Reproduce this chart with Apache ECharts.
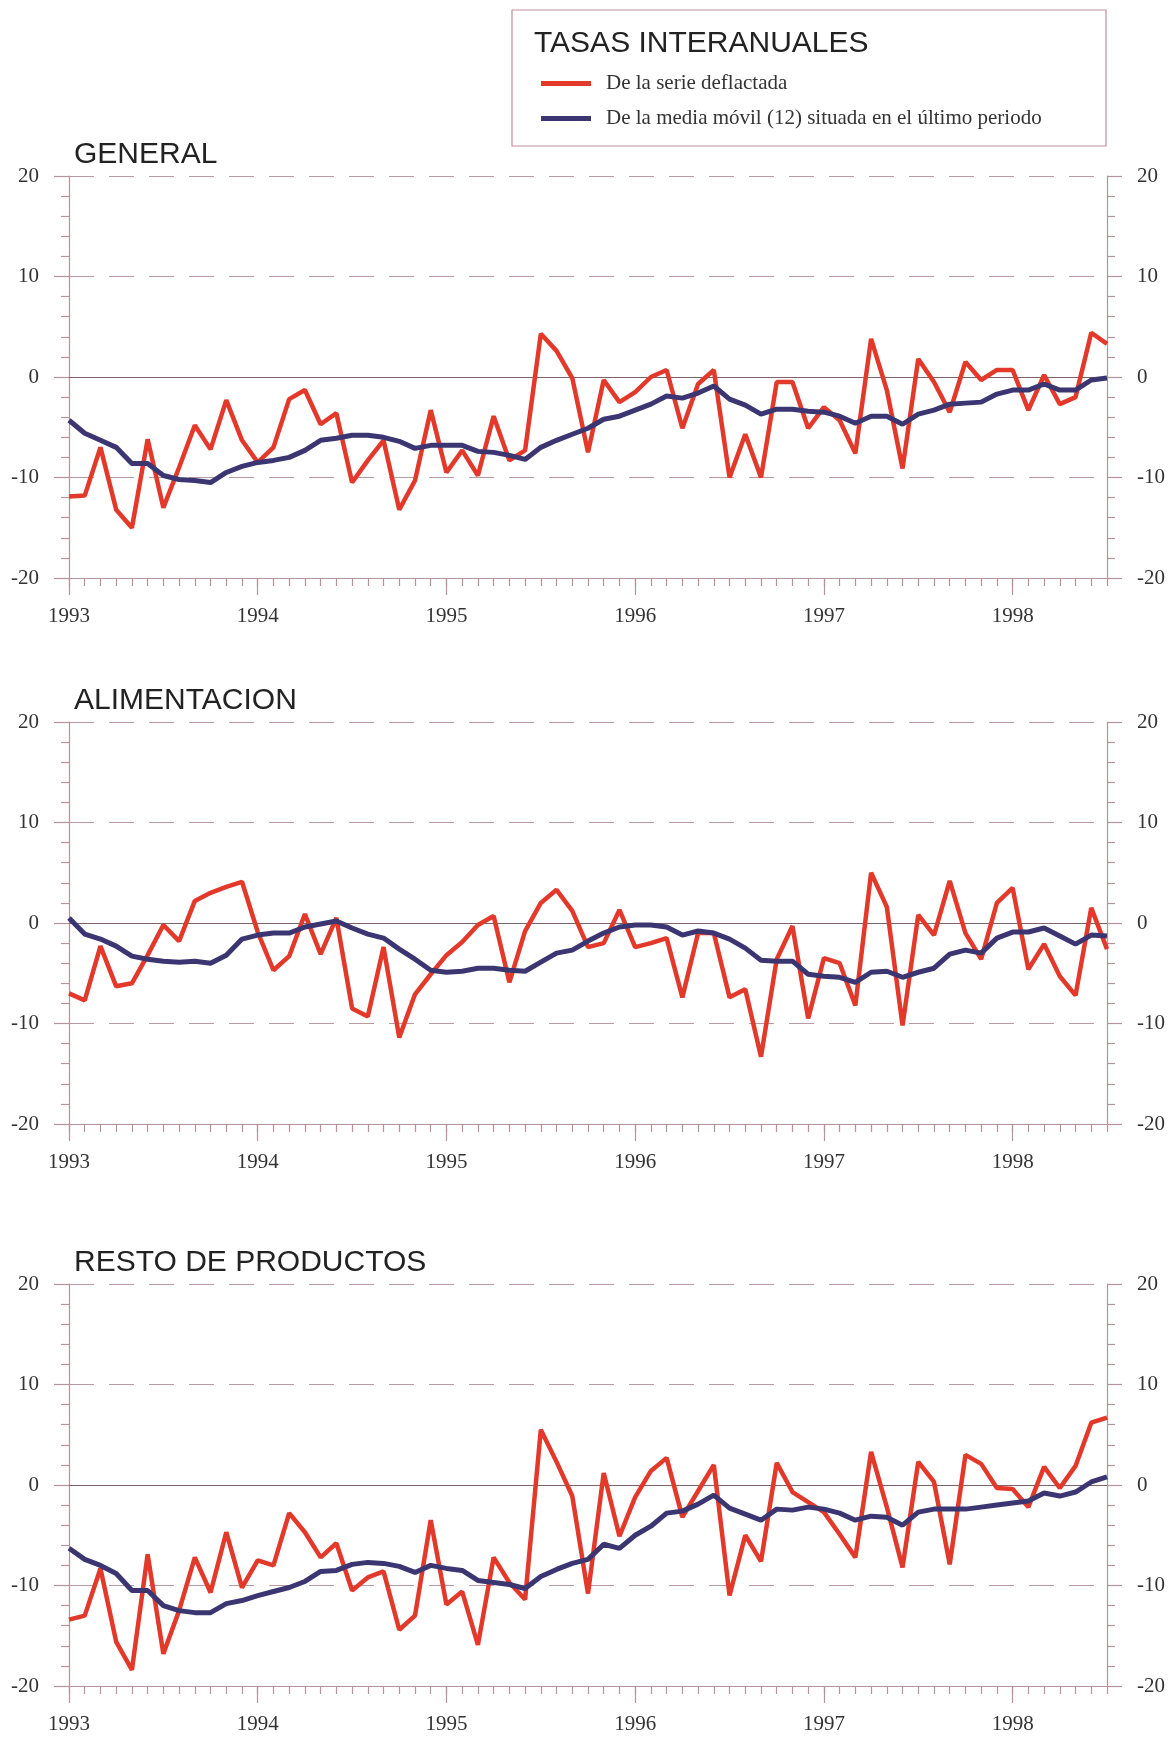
<!DOCTYPE html>
<html>
<head>
<meta charset="utf-8">
<title>Tasas interanuales</title>
<script src="https://cdn.jsdelivr.net/npm/echarts@6/dist/echarts.min.js"></script>
<style>
    html, body { margin: 0; padding: 0; background: #fff; }
    #chart { width: 1174px; height: 1740px; }
</style>
</head>
<body>
<div id="chart"></div>
<script>
// years on the x axis, one point per month from Jan 1993 to Jul 1998
var years = ['1993', '1994', '1995', '1996', '1997', '1998'];
var lastMonths = 7; // months shown of the last year

var yTicks = [-20, -10, 0, 10, 20];

var legendNames = ['De la serie deflactada', 'De la media móvil (12) situada en el último periodo'];

// GENERAL
var genRed = [
    -11.9, -11.8, -7.0, -13.2, -15.0, -6.2, -13.0, -9.0, -4.8, -7.2, -2.3, -6.3,
    -8.5, -7.0, -2.2, -1.3, -4.7, -3.6, -10.5, -8.3, -6.3, -13.2, -10.3, -3.3,
    -9.5, -7.3, -9.8, -3.9, -8.3, -7.3, 4.3, 2.6, -0.1, -7.5, -0.3, -2.5,
    -1.5, 0.0, 0.7, -5.1, -0.7, 0.7, -10.0, -5.7, -10.0, -0.5, -0.5, -5.1,
    -3.0, -4.3, -7.6, 3.8, -1.3, -9.1, 1.8, -0.5, -3.5, 1.5, -0.3, 0.7,
    0.7, -3.3, 0.2, -2.7, -2.0, 4.4, 3.3
];
var genAvg = [
    -4.3, -5.6, -6.3, -7.0, -8.6, -8.6, -9.8, -10.2, -10.3, -10.5, -9.5, -8.9,
    -8.5, -8.3, -8.0, -7.3, -6.3, -6.1, -5.8, -5.8, -6.0, -6.4, -7.1, -6.8,
    -6.8, -6.8, -7.4, -7.5, -7.8, -8.2, -7.0, -6.3, -5.7, -5.1, -4.2, -3.9,
    -3.3, -2.7, -1.9, -2.1, -1.6, -0.9, -2.2, -2.8, -3.7, -3.2, -3.2, -3.4,
    -3.5, -3.9, -4.6, -3.9, -3.9, -4.7, -3.7, -3.3, -2.7, -2.6, -2.5, -1.7,
    -1.3, -1.3, -0.7, -1.3, -1.3, -0.3, -0.1
];

// ALIMENTACION
var aliRed = [
    -7.0, -7.7, -2.3, -6.3, -6.0, -3.2, -0.2, -1.8, 2.2, 3.0, 3.6, 4.1,
    -0.9, -4.7, -3.3, 0.9, -3.1, 0.5, -8.5, -9.3, -2.4, -11.4, -7.1, -5.1,
    -3.2, -1.9, -0.2, 0.7, -5.9, -0.8, 2.0, 3.3, 1.2, -2.4, -2.0, 1.3,
    -2.4, -2.0, -1.5, -7.4, -1.0, -1.0, -7.4, -6.6, -13.3, -3.6, -0.3, -9.5,
    -3.5, -4.0, -8.2, 5.0, 1.6, -10.2, 0.8, -1.2, 4.2, -1.0, -3.6, 2.0,
    3.5, -4.6, -2.1, -5.3, -7.2, 1.5, -2.6
];
var aliAvg = [
    0.5, -1.1, -1.6, -2.3, -3.3, -3.6, -3.8, -3.9, -3.8, -4.0, -3.2, -1.6,
    -1.2, -1.0, -1.0, -0.4, -0.1, 0.2, -0.5, -1.1, -1.5, -2.6, -3.6, -4.7,
    -4.9, -4.8, -4.5, -4.5, -4.7, -4.8, -3.9, -3.0, -2.7, -1.8, -1.0, -0.4,
    -0.2, -0.2, -0.4, -1.2, -0.8, -1.0, -1.6, -2.5, -3.7, -3.8, -3.8, -5.1,
    -5.3, -5.4, -5.9, -4.9, -4.8, -5.4, -4.9, -4.5, -3.1, -2.7, -3.0, -1.5,
    -0.9, -0.9, -0.5, -1.3, -2.1, -1.2, -1.3
];

// RESTO DE PRODUCTOS
var resRed = [
    -13.4, -13.0, -8.3, -15.6, -18.4, -6.9, -16.8, -12.5, -7.2, -10.7, -4.7, -10.2,
    -7.5, -8.0, -2.8, -4.7, -7.2, -5.8, -10.5, -9.2, -8.6, -14.4, -13.0, -3.5,
    -11.9, -10.6, -15.9, -7.2, -9.7, -11.4, 5.5, 2.3, -1.1, -10.8, 1.2, -5.1,
    -1.2, 1.4, 2.7, -3.2, -0.6, 2.0, -11.0, -5.0, -7.6, 2.2, -0.7, -1.7,
    -2.7, -4.9, -7.2, 3.3, -2.2, -8.2, 2.3, 0.3, -7.9, 3.0, 2.1, -0.3,
    -0.4, -2.2, 1.8, -0.3, 1.9, 6.2, 6.7
];
var resAvg = [
    -6.3, -7.4, -8.0, -8.8, -10.5, -10.5, -12.0, -12.5, -12.7, -12.7, -11.8, -11.5,
    -11.0, -10.6, -10.2, -9.6, -8.6, -8.5, -7.9, -7.7, -7.8, -8.1, -8.7, -8.0,
    -8.3, -8.5, -9.5, -9.7, -9.9, -10.3, -9.1, -8.4, -7.8, -7.4, -5.9, -6.3,
    -5.0, -4.1, -2.8, -2.6, -1.9, -1.0, -2.3, -2.9, -3.5, -2.4, -2.5, -2.2,
    -2.4, -2.8, -3.5, -3.1, -3.2, -4.0, -2.7, -2.4, -2.4, -2.4, -2.2, -2.0,
    -1.8, -1.6, -0.8, -1.1, -0.7, 0.3, 0.8
];

// month categories built from the years
var months = [];
years.forEach(function (y, k) {
    var n = k === years.length - 1 ? lastMonths : 12;
    for (var m = 1; m <= n; m++) {
        months.push(y + '-' + (m < 10 ? '0' + m : m));
    }
});

var panels = [
    {title: 'GENERAL', top: 176, red: genRed, avg: genAvg},
    {title: 'ALIMENTACION', top: 722, red: aliRed, avg: aliAvg},
    {title: 'RESTO DE PRODUCTOS', top: 1284, red: resRed, avg: resAvg}
];

var RED = '#e2392b';
var BLUE = '#3b3672';
var AXIS = '#b4939b';
var GRID = '#b89aa2';
var ZERO = '#7d6268';
var SERIF = '"Liberation Serif", "DejaVu Serif", serif';
var SANS = '"Liberation Sans", Arial, sans-serif';

var option = {
    backgroundColor: '#fff',
    animation: false,
    title: [{
        text: 'TASAS INTERANUALES',
        left: 529,
        top: 24,
        textStyle: {fontFamily: SANS, fontSize: 30, fontWeight: 'normal', color: '#222', lineHeight: 30}
    }],
    legend: {
        data: legendNames,
        orient: 'vertical',
        left: 536,
        top: 68,
        icon: 'rect',
        itemWidth: 50,
        itemHeight: 5,
        itemGap: 14,
        textStyle: {fontFamily: SERIF, fontSize: 21, color: '#333', lineHeight: 21, padding: [0, 0, 0, 10]}
    },
    graphic: [{
        type: 'rect',
        shape: {x: 512, y: 10, width: 594, height: 136},
        style: {fill: 'none', stroke: '#c58e9c', lineWidth: 1.2}
    }],
    grid: [],
    xAxis: [],
    yAxis: [],
    series: []
};

panels.forEach(function (p, k) {
    option.title.push({
        text: p.title,
        left: 69,
        top: p.top - 41,
        textStyle: {fontFamily: SANS, fontSize: 30, fontWeight: 'normal', color: '#222', lineHeight: 30}
    });
    option.grid.push({left: 69, right: 67, top: p.top, height: 402});

    // monthly ticks and year labels
    option.xAxis.push({
        gridIndex: k,
        type: 'category',
        position: 'bottom',
        boundaryGap: false,
        data: months,
        axisLine: {onZero: false, lineStyle: {color: AXIS, width: 1.2}},
        axisTick: {interval: 0, length: 8, lineStyle: {color: AXIS, width: 1.2}},
        axisLabel: {
            interval: function (i) { return i % 12 === 0; },
            formatter: function (v) { return v.slice(0, 4); },
            margin: 28,
            fontFamily: SERIF, fontSize: 21, color: '#333'
        },
        splitLine: {show: false}
    });
    // long ticks at the start of each year
    option.xAxis.push({
        gridIndex: k,
        type: 'category',
        position: 'bottom',
        boundaryGap: false,
        data: months,
        axisLine: {show: false, onZero: false},
        axisTick: {interval: function (i) { return i % 12 === 0; }, length: 17, lineStyle: {color: AXIS, width: 1.2}},
        axisLabel: {show: false},
        splitLine: {show: false}
    });

    var yBase = {
        gridIndex: k,
        type: 'value',
        min: yTicks[0],
        max: yTicks[yTicks.length - 1],
        interval: 10,
        axisLine: {show: true, lineStyle: {color: AXIS, width: 1.2}},
        axisTick: {show: true, length: 15, lineStyle: {color: AXIS, width: 1.2}},
        minorTick: {show: true, splitNumber: 5, length: 8, lineStyle: {color: AXIS, width: 1.2}},
        axisLabel: {margin: 30, fontFamily: SERIF, fontSize: 21, color: '#333'}
    };
    option.yAxis.push(Object.assign({}, yBase, {
        position: 'left',
        splitLine: {show: true, lineStyle: {color: GRID, width: 1.2, type: [25, 15]}}
    }));
    option.yAxis.push(Object.assign({}, yBase, {
        position: 'right',
        splitLine: {show: false}
    }));

    option.series.push({
        name: legendNames[0],
        type: 'line',
        xAxisIndex: 2 * k,
        yAxisIndex: 2 * k,
        data: p.red,
        symbol: 'none',
        lineStyle: {color: RED, width: 4.5},
        itemStyle: {color: RED},
        z: 3,
        markLine: {
            silent: true,
            z: 1,
            symbol: ['none', 'none'],
            label: {show: false},
            lineStyle: {color: ZERO, type: 'solid', width: 1.2},
            data: [{yAxis: 0}]
        }
    });
    option.series.push({
        name: legendNames[1],
        type: 'line',
        xAxisIndex: 2 * k,
        yAxisIndex: 2 * k,
        data: p.avg,
        symbol: 'none',
        lineStyle: {color: BLUE, width: 5},
        itemStyle: {color: BLUE},
        z: 4
    });
});

var chart = echarts.init(document.getElementById('chart'));
chart.setOption(option);

window.onresize = function () {
    chart.resize();
};
</script>
</body>
</html>
